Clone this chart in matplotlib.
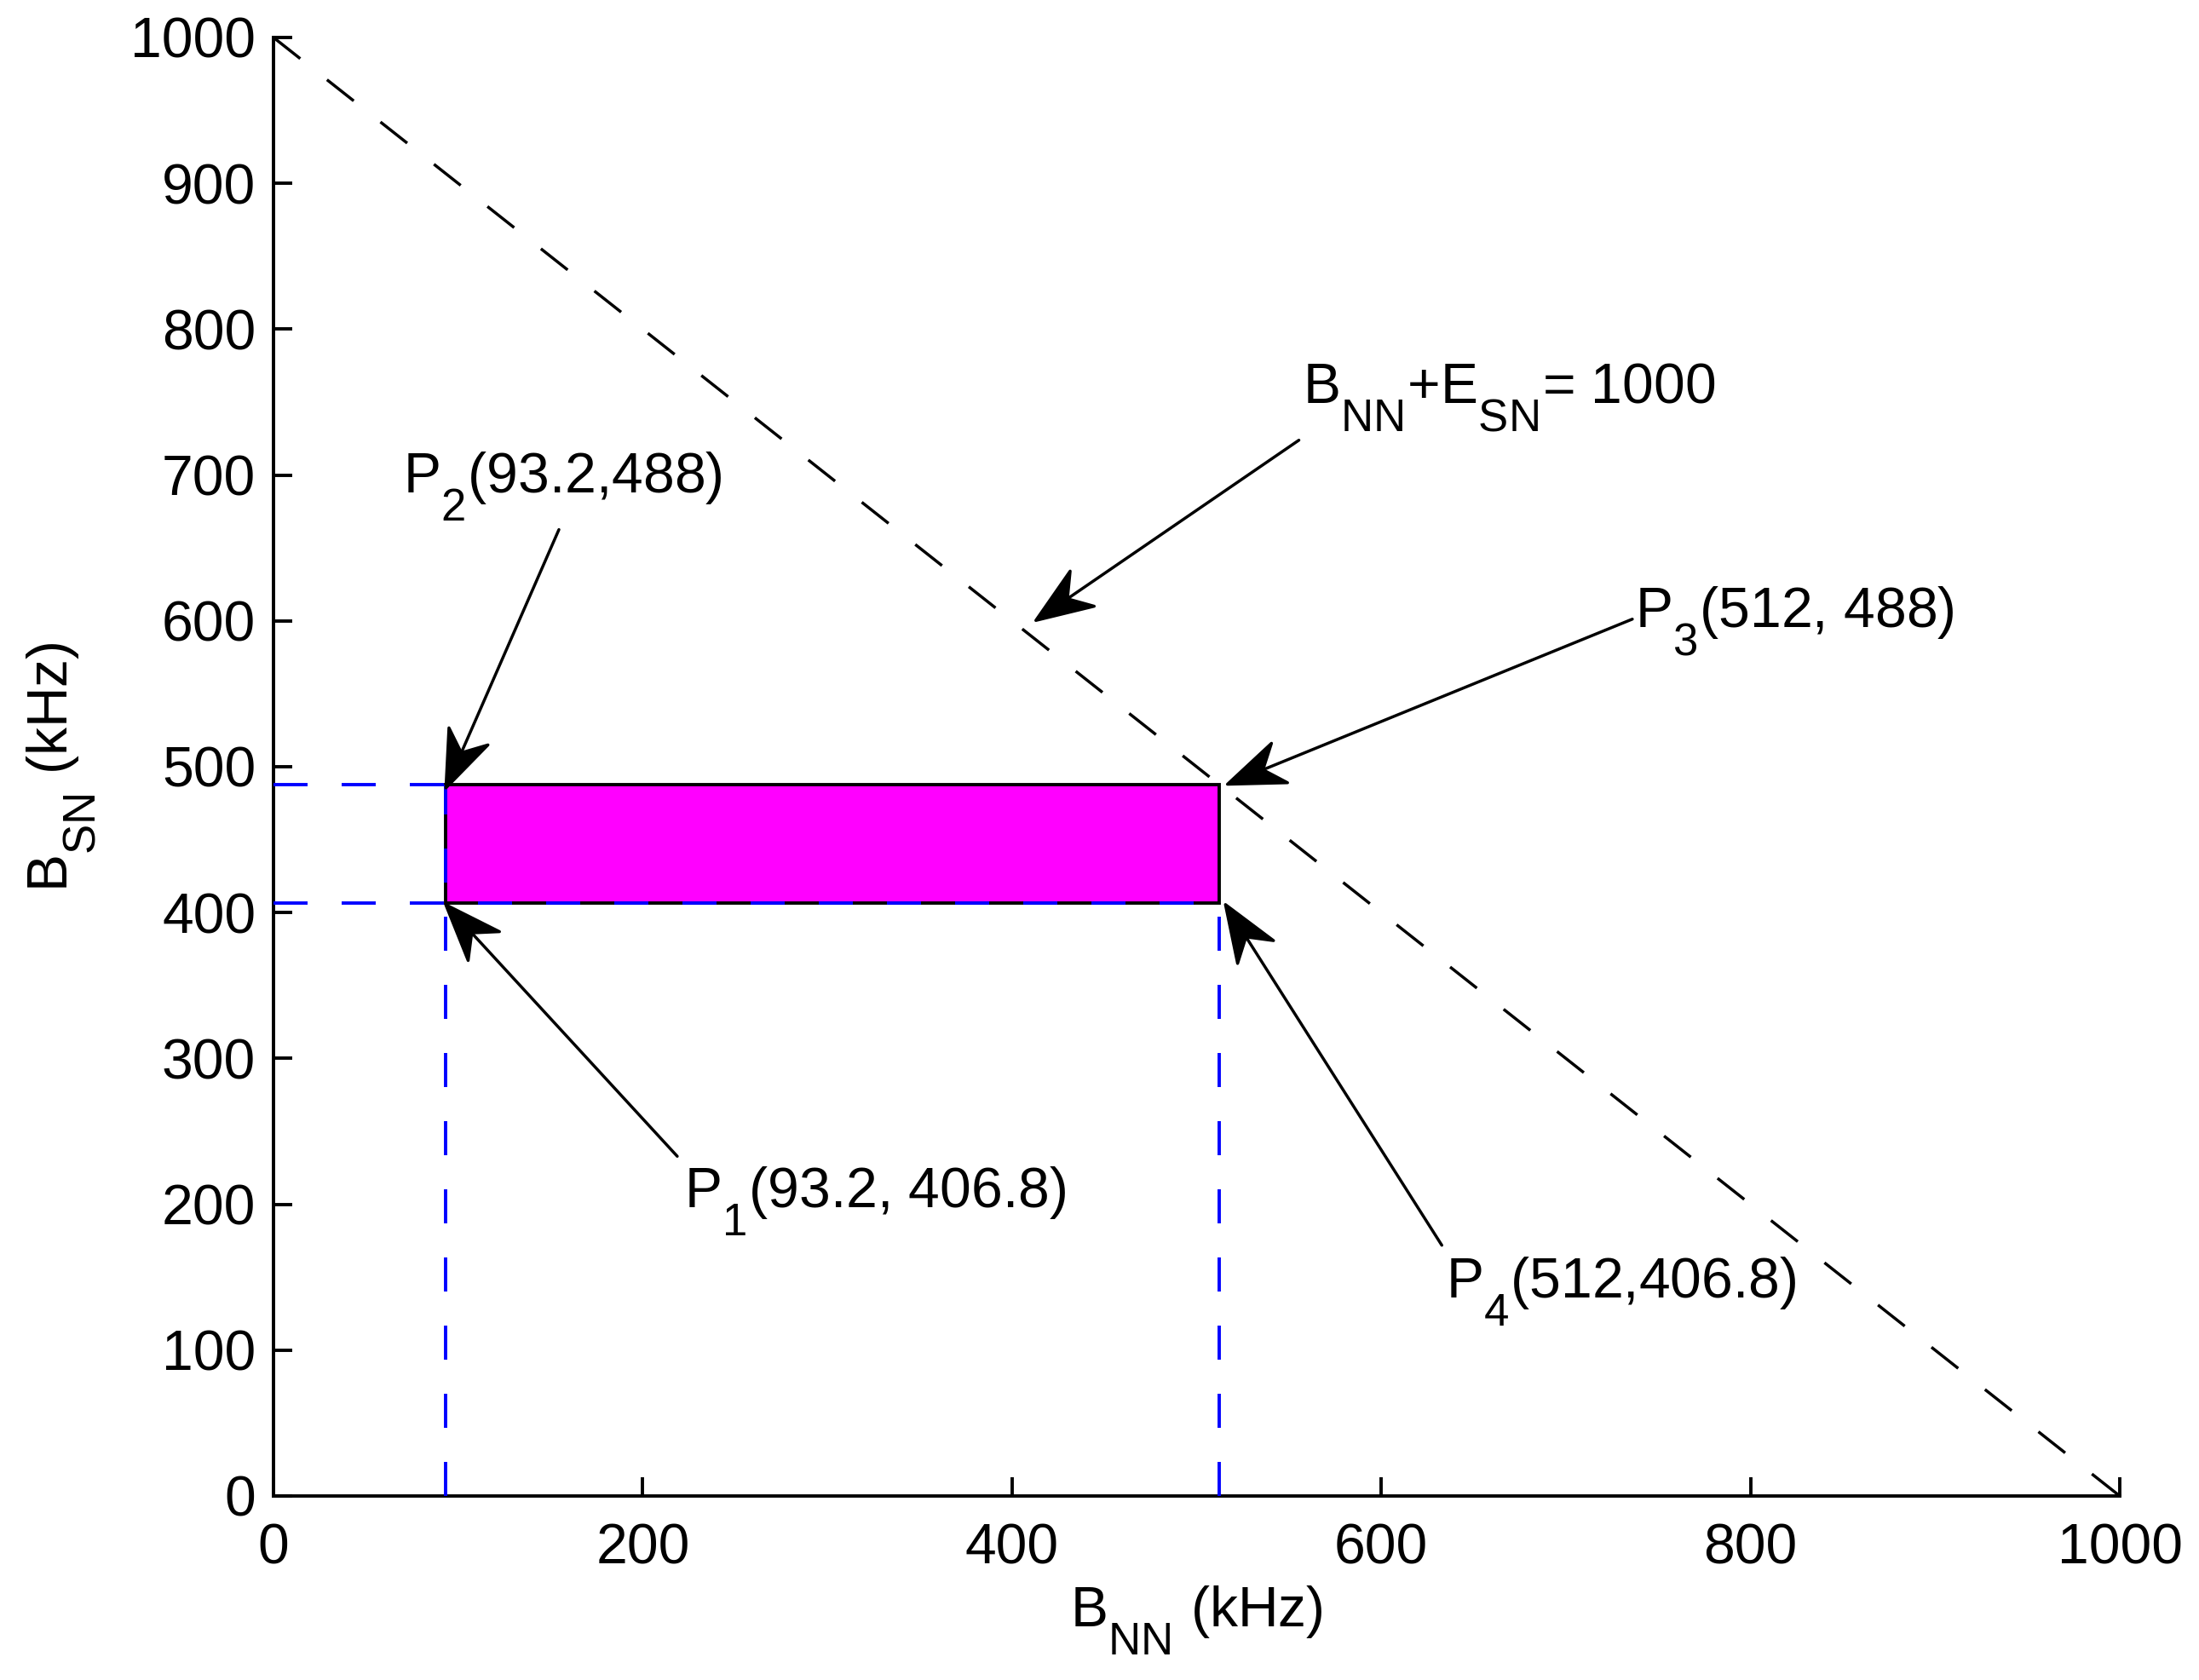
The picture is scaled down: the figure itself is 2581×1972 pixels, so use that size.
import numpy as np
import matplotlib
matplotlib.use("Agg")
import matplotlib.pyplot as plt
from matplotlib.patches import ArrowStyle, FancyArrowPatch
from matplotlib.path import Path

# ---------------- data ----------------
bnn_limits = [0, 1000]            # x range (kHz)
bsn_limits = [0, 1000]            # y range (kHz)
x_ticks = [0, 200, 400, 600, 800, 1000]
y_ticks = [0, 100, 200, 300, 400, 500, 600, 700, 800, 900, 1000]
constraint_x = [0, 1000]          # B_NN + B_SN = 1000
constraint_y = [1000, 0]
rect_x = [93.2, 512.0]            # P1/P2 x, P3/P4 x
rect_y = [406.8, 488.0]           # P1/P4 y, P2/P3 y

eq_label = r'B$_{NN}$+E$_{SN}$= 1000'
eq_text_pos = [557.4, 749.4]
eq_arrow = [[555.4, 723.9], [412.9, 600.3]]

point_labels = [r'P$_1$(93.2, 406.8)', r'P$_2$(93.2,488)',
                r'P$_3$(512, 488)', r'P$_4$(512,406.8)']
point_text_pos = [[222.3, 197.3], [70.3, 687.9], [737.6, 595.8], [635.1, 135.9]]
point_arrow_tail = [[218.7, 232.9], [154.6, 662.6], [736.0, 601.2], [632.8, 171.9]]
point_arrow_tip = [[93.3, 405.4], [93.4, 485.5], [516.7, 488.0], [515.6, 405.5]]

# ---------------- style ----------------
plt.rcParams['font.family'] = ['Liberation Sans', 'DejaVu Sans']
plt.rcParams['mathtext.fontset'] = 'custom'
plt.rcParams['mathtext.rm'] = 'Liberation Sans'
plt.rcParams['mathtext.it'] = 'Liberation Sans'
plt.rcParams['mathtext.bf'] = 'Liberation Sans:bold'
plt.rcParams['lines.scale_dashes'] = False
try:
    import matplotlib._mathtext as _mt
    _mt.SHRINK_FACTOR = 0.8
    _mt.FontConstantsBase.sub1 = 0.95
except Exception:
    pass

FS = 47.5
DASH = (0, (28.8, 28.8))
LW_AX = 2.8
LW_DASH = 2.5
LW_ARROW = 2.5


class NotchedHead(ArrowStyle._Base):
    """MATLAB-like arrow head with a notched back."""

    def __init__(self, length=66, width=50, back=45):
        self.length, self.width, self.back = length, width, back
        super().__init__()

    def transmute(self, path, mutation_size, linewidth):
        v = path.vertices
        tail, tip = np.asarray(v[0], float), np.asarray(v[-1], float)
        d = tip - tail
        u = d / np.hypot(*d)
        n = np.array([-u[1], u[0]])
        bc = tip - u * self.length
        c1 = bc + n * self.width / 2
        c2 = bc - n * self.width / 2
        notch = tip - u * self.back
        line = Path([tail, notch])
        head = Path([tip, c1, notch, c2, tip],
                    [Path.MOVETO, Path.LINETO, Path.LINETO, Path.LINETO, Path.CLOSEPOLY])
        return [line, head], [False, True]


fig = plt.figure(figsize=(25.81, 19.72), dpi=100)
ax = fig.add_axes([321 / 2581, 1 - 1756 / 1972, (2488 - 321) / 2581, (1756 - 44) / 1972])

# constraint line
ax.plot(constraint_x, constraint_y, color='k', lw=LW_DASH, linestyle=DASH, clip_on=False, zorder=2)

# feasible rectangle
ax.fill([rect_x[0], rect_x[1], rect_x[1], rect_x[0]],
        [rect_y[0], rect_y[0], rect_y[1], rect_y[1]],
        facecolor='#FF00FF', edgecolor='k', lw=LW_AX, zorder=3)

# blue guide lines
ax.plot([rect_x[0], rect_x[0]], [bsn_limits[0], rect_y[1]], color='#0000FF', lw=LW_AX, linestyle=DASH, zorder=4)
ax.plot([bnn_limits[0], rect_x[1]], [rect_y[0], rect_y[0]], color='#0000FF', lw=LW_AX, linestyle=DASH, zorder=4)
ax.plot([rect_x[1], rect_x[1]], [bsn_limits[0], rect_y[0]], color='#0000FF', lw=LW_AX, linestyle=DASH, zorder=4)
ax.plot([bnn_limits[0], rect_x[0]], [rect_y[1], rect_y[1]], color='#0000FF', lw=LW_AX, linestyle=DASH, zorder=4)

# annotations
ax.text(eq_text_pos[0], eq_text_pos[1], eq_label, fontsize=FS, ha='left', va='baseline')
ax.add_patch(FancyArrowPatch(posA=eq_arrow[0], posB=eq_arrow[1], arrowstyle=NotchedHead(),
                             color='k', lw=LW_ARROW, shrinkA=0, shrinkB=0, zorder=6, clip_on=False))
for lab, tp, ta, tt in zip(point_labels, point_text_pos, point_arrow_tail, point_arrow_tip):
    ax.text(tp[0], tp[1], lab, fontsize=FS, ha='left', va='baseline')
    ax.add_patch(FancyArrowPatch(posA=ta, posB=tt, arrowstyle=NotchedHead(),
                                 color='k', lw=LW_ARROW, shrinkA=0, shrinkB=0, zorder=6, clip_on=False))

# axes
ax.set_xlim(bnn_limits)
ax.set_ylim(bsn_limits)
ax.set_xticks(x_ticks)
ax.set_yticks(y_ticks)
ax.set_xticklabels([str(t) for t in x_ticks])
ax.set_yticklabels([str(t) for t in y_ticks])
for s in ['top', 'right']:
    ax.spines[s].set_visible(False)
for s in ['left', 'bottom']:
    ax.spines[s].set_linewidth(LW_AX)
ax.tick_params(direction='in', length=16, width=LW_AX, labelsize=FS)
ax.tick_params(axis='x', pad=23)
ax.tick_params(axis='y', pad=15)

ax.set_xlabel(r'B$_{NN}$ (kHz)', fontsize=FS)
ax.set_ylabel(r'B$_{SN}$ (kHz)', fontsize=FS)
ax.xaxis.set_label_coords(0.5, -(1860 - 1756) / 1712)
ax.yaxis.set_label_coords(-(321 - 115) / 2167, 0.5)

fig.savefig('out.png', dpi=100, facecolor='white')
